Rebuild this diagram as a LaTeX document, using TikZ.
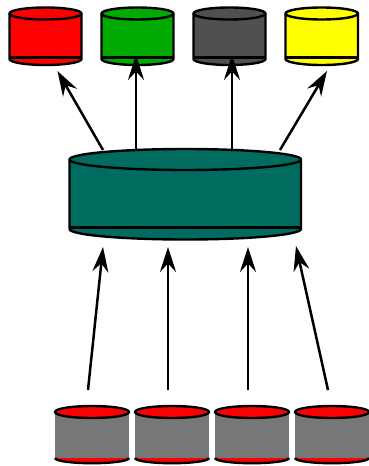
\documentclass[tikz,border=0pt]{standalone}
\usetikzlibrary{arrows.meta}
\definecolor{cgreen}{HTML}{00AA00}
\definecolor{cdark}{HTML}{505050}
\definecolor{cteal}{HTML}{006B5F}
\definecolor{cgray}{HTML}{777777}
\definecolor{cred}{RGB}{255,0,0}
\definecolor{cyellow}{RGB}{255,255,0}
\tikzset{
  cylline/.style={draw=black,line width=2.4pt,line join=round},
  conn/.style={draw=black,line width=2.5pt,-{Stealth[length=25pt,width=16pt,inset=8.5pt]}},
  anchorbox/.style={inner sep=0pt,outer sep=0pt,minimum width=#1,minimum height=1pt}
}
% name, left x, right x, top-ellipse cy, ellipse ry, bottom-arc centre y, colour
\newcommand{\storecyl}[7]{%
  \pgfmathsetmacro{\rx}{(#3-#2)/2}%
  \pgfmathsetmacro{\mx}{(#3+#2)/2}%
  \pgfmathsetmacro{\ly}{#6-1.5}%
  \fill[#7] (#2,#4) -- (#2,#6) arc[start angle=180,end angle=0,x radius=\rx,y radius=#5] -- (#3,#4) arc[start angle=0,end angle=-180,x radius=\rx,y radius=#5] -- cycle;
  \draw[cylline] (#2,\ly) -- (#3,\ly);
  \draw[cylline] (#3,#4) -- (#3,#6) arc[start angle=0,end angle=180,x radius=\rx,y radius=#5] -- (#2,#4);
  \draw[cylline] (\mx,#4) ellipse[x radius=\rx,y radius=#5];
  \node[anchorbox=\rx*2pt] (#1) at (\mx,#4) {};
}
% name, left x
\newcommand{\sourcecyl}[2]{%
  \pgfmathsetmacro{\mx}{#2+37}%
  \fill[cred] (#2,458) arc[start angle=180,end angle=0,x radius=37,y radius=5.2] -- cycle;
  \fill[cgray] (#2,412) rectangle (#2+74,458);
  \draw[black,line width=2.4pt] (#2,458) arc[start angle=180,end angle=0,x radius=37,y radius=5.2];
  \draw[cylline,fill=cred] (\mx,412) ellipse[x radius=37,y radius=6];
  \node[anchorbox=74pt] (#1) at (\mx,412) {};
}
\begin{document}
\begin{tikzpicture}[x=1pt,y=-1pt]
\useasboundingbox (0,0) rectangle (368,466);
\storecyl{ored}{9.5}{81.5}{13.5}{6}{59}{cred}
\storecyl{ogreen}{101.5}{173.5}{13.5}{6}{59}{cgreen}
\storecyl{odark}{193.5}{265.5}{13.5}{6}{59}{cdark}
\storecyl{oyellow}{285.5}{358}{13.5}{6}{59}{cyellow}
\storecyl{hub}{69.5}{301}{159.5}{10.5}{229}{cteal}
\sourcecyl{sa}{55}
\sourcecyl{sb}{135}
\sourcecyl{sc}{215}
\sourcecyl{sd}{295}
\coordinate (h1) at (103,150);
\coordinate (h2) at (136,149);
\coordinate (h3) at (232,149);
\coordinate (h4) at (280,150);
\coordinate (t1) at (57.5,71);
\coordinate (t2) at (136,55);
\coordinate (t3) at (232,55);
\coordinate (t4) at (327,71);
\coordinate (b1) at (103,247);
\coordinate (b2) at (168,247);
\coordinate (b3) at (248,247);
\coordinate (b4) at (296,246);
\coordinate (s1) at (88,390);
\coordinate (s2) at (168,390);
\coordinate (s3) at (248,390);
\coordinate (s4) at (328,390);
\draw[conn] (h1) -- (t1);
\draw[conn] (h2) -- (t2);
\draw[conn] (h3) -- (t3);
\draw[conn] (h4) -- (t4);
\draw[conn] (s1) -- (b1);
\draw[conn] (s2) -- (b2);
\draw[conn] (s3) -- (b3);
\draw[conn] (s4) -- (b4);
\end{tikzpicture}
\end{document}
